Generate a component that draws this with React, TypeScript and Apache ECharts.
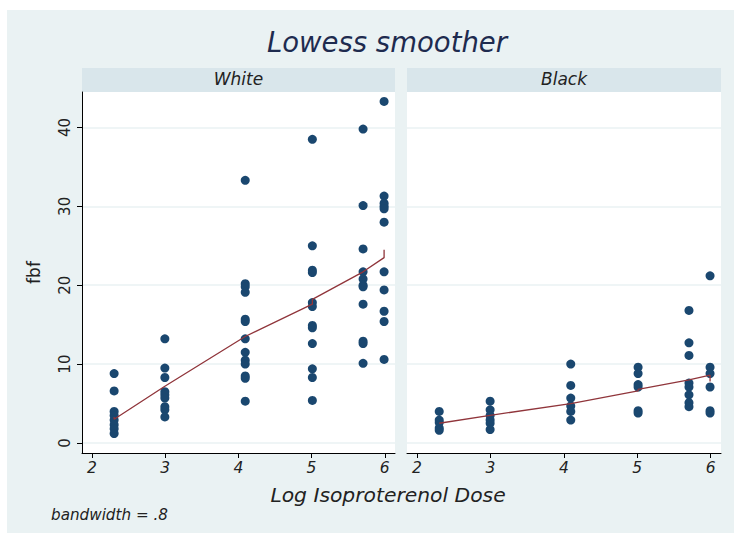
import React, { useEffect, useRef } from "react";
import * as echarts from "echarts";

const doseLevels = [2.303, 2.996, 4.094, 5.011, 5.704, 5.991];
const xTicks = [2, 3, 4, 5, 6];
const yTicks = [0, 10, 20, 30, 40];
const panelNames = ["White", "Black"];

const whiteFbf: number[][] = [
  [8.8, 6.6, 4.0, 3.5, 2.9, 2.3, 1.8, 1.2],
  [13.2, 9.5, 8.3, 6.5, 6.1, 5.7, 4.6, 4.2, 3.3],
  [33.3, 20.2, 19.8, 19.1, 15.7, 15.4, 13.2, 11.5, 10.5, 10.0, 8.5, 8.2, 5.3],
  [38.5, 25.0, 21.9, 21.6, 17.8, 17.3, 14.9, 14.6, 12.6, 9.4, 8.3, 5.4],
  [39.8, 30.1, 24.6, 21.7, 20.8, 20.0, 19.8, 17.6, 12.9, 12.6, 10.1],
  [43.3, 31.3, 30.4, 30.0, 29.7, 28.0, 21.7, 19.4, 16.7, 15.4, 10.6],
];

const blackFbf: number[][] = [
  [4.0, 2.9, 2.6, 1.9, 1.6],
  [5.3, 4.2, 3.5, 2.9, 2.5, 1.7],
  [10.0, 7.3, 5.7, 4.7, 4.0, 2.9],
  [9.6, 8.8, 7.4, 7.1, 4.1, 3.8],
  [16.8, 12.7, 11.1, 7.6, 7.1, 6.1, 5.1, 4.6],
  [21.2, 9.6, 8.8, 7.1, 4.1, 3.8],
];

const whiteLowessX = [2.303, 2.303, 2.996, 4.094, 5.011, 5.011, 5.704, 5.991, 5.991];
const whiteLowessY = [3.3, 3.0, 7.2, 13.5, 17.6, 18.2, 21.7, 23.5, 24.5];
const blackLowessX = [2.303, 2.996, 4.094, 5.011, 5.011, 5.704, 5.991, 5.991];
const blackLowessY = [2.5, 3.5, 5.0, 6.6, 6.8, 8.0, 8.6, 7.8];

const NAVY = "#1a476f";
const MAROON = "#90353b";
const BG = "#eaf2f3";
const STRIP = "#d9e6eb";
const FONT = "'DejaVu Sans', sans-serif";

function toPoints(groups: number[][]) {
  const pts: number[][] = [];
  groups.forEach((vals, i) => vals.forEach((v) => pts.push([doseLevels[i], v])));
  return pts;
}
function zip(xs: number[], ys: number[]) {
  return xs.map((x, i) => [x, ys[i]]);
}

export default function App() {
  const ref = useRef<HTMLDivElement>(null);
  useEffect(() => {
    if (!ref.current) return;
    const chart = echarts.init(ref.current, undefined, { renderer: "svg" });
    const grids = [
      { left: 82, top: 92, width: 313, height: 361 },
      { left: 407, top: 92, width: 314, height: 361 },
    ];
    const xAxis = grids.map((_, i) => ({
      type: "value",
      gridIndex: i,
      min: 1.864,
      max: 6.14,
      axisLine: { show: true, onZero: false, lineStyle: { color: "#000", width: 1 } },
      axisTick: { show: true, length: 5, customValues: xTicks, lineStyle: { color: "#000" } },
      axisLabel: {
        customValues: xTicks,
        margin: 7,
        fontFamily: FONT,
        fontStyle: "italic",
        fontSize: 15.5,
        color: "#222",
      },
      splitLine: { show: false },
    }));
    const yAxis = grids.map((_, i) => ({
      type: "value",
      gridIndex: i,
      min: -1.27,
      max: 44.5,
      name: i === 0 ? "fbf" : "",
      nameLocation: "middle",
      nameRotate: 90,
      nameGap: 40,
      nameTextStyle: { fontFamily: FONT, fontSize: 17, color: "#222" },
      axisLine: { show: i === 0, lineStyle: { color: "#000", width: 1 } },
      axisTick: { show: i === 0, length: 5, customValues: yTicks, lineStyle: { color: "#000" } },
      axisLabel: {
        show: i === 0,
        customValues: yTicks,
        rotate: 90,
        margin: 10,
        fontFamily: FONT,
        fontSize: 15,
        color: "#222",
      },
      splitLine: { show: true, lineStyle: { color: BG, width: 1.5 } },
    }));
    const option: any = {
      animation: false,
      backgroundColor: "#fff",
      graphic: [
        { type: "rect", z: -10, shape: { x: 7, y: 10, width: 727, height: 523 }, style: { fill: BG } },
        { type: "rect", z: -9, shape: { x: 82, y: 92, width: 313, height: 361 }, style: { fill: "#fff" } },
        { type: "rect", z: -9, shape: { x: 407, y: 92, width: 314, height: 361 }, style: { fill: "#fff" } },
        { type: "rect", z: -9, shape: { x: 82, y: 68, width: 313, height: 24 }, style: { fill: STRIP } },
        { type: "rect", z: -9, shape: { x: 407, y: 68, width: 314, height: 24 }, style: { fill: STRIP } },
        {
          type: "text", x: 238.5, y: 79,
          style: { text: panelNames[0], fontFamily: FONT, fontStyle: "italic", fontSize: 17, fill: "#222", align: "center", verticalAlign: "middle" },
        },
        {
          type: "text", x: 564, y: 79,
          style: { text: panelNames[1], fontFamily: FONT, fontStyle: "italic", fontSize: 17, fill: "#222", align: "center", verticalAlign: "middle" },
        },
        {
          type: "text", x: 387, y: 42,
          style: { text: "Lowess smoother", fontFamily: FONT, fontStyle: "italic", fontSize: 27.5, fill: "#1e2b4f", align: "center", verticalAlign: "middle" },
        },
        {
          type: "text", x: 388, y: 495,
          style: { text: "Log Isoproterenol Dose", fontFamily: FONT, fontStyle: "italic", fontSize: 20.3, fill: "#222", align: "center", verticalAlign: "middle" },
        },
        {
          type: "text", x: 51, y: 515,
          style: { text: "bandwidth = .8", fontFamily: FONT, fontStyle: "italic", fontSize: 15.2, fill: "#222", align: "left", verticalAlign: "middle" },
        },
      ],
      grid: grids,
      xAxis,
      yAxis,
      series: [
        {
          type: "scatter", xAxisIndex: 0, yAxisIndex: 0, data: toPoints(whiteFbf),
          symbolSize: 9, itemStyle: { color: NAVY, opacity: 1 },
        },
        {
          type: "scatter", xAxisIndex: 1, yAxisIndex: 1, data: toPoints(blackFbf),
          symbolSize: 9, itemStyle: { color: NAVY, opacity: 1 },
        },
        {
          type: "line", xAxisIndex: 0, yAxisIndex: 0, data: zip(whiteLowessX, whiteLowessY),
          showSymbol: false, symbol: "none", lineStyle: { color: MAROON, width: 1.3 }, z: 5,
        },
        {
          type: "line", xAxisIndex: 1, yAxisIndex: 1, data: zip(blackLowessX, blackLowessY),
          showSymbol: false, symbol: "none", lineStyle: { color: MAROON, width: 1.3 }, z: 5,
        },
      ],
    };
    chart.setOption(option);
    return () => chart.dispose();
  }, []);
  return (
    <div
      ref={ref}
      style={{ position: "absolute", left: 0, top: 0, width: 734, height: 540 }}
    />
  );
}
